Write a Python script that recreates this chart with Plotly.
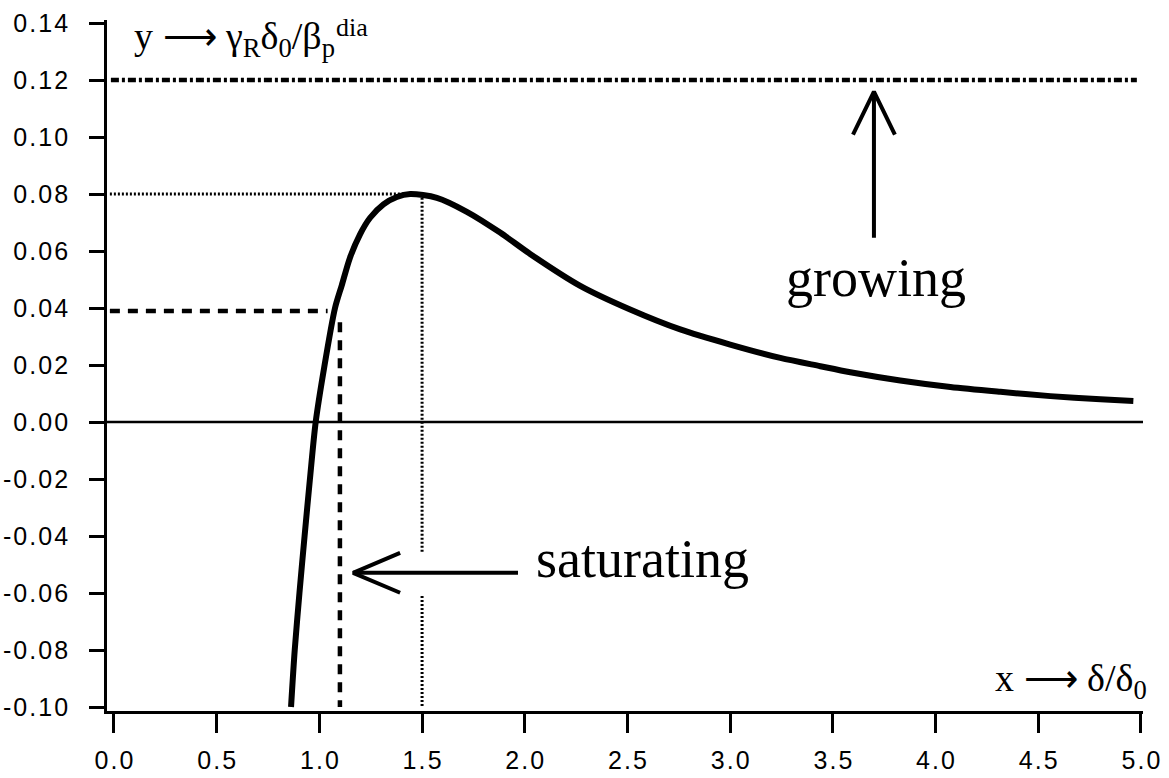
import plotly.graph_objects as go

# Normalised growth-rate curve: y = gamma_R * delta_0 / beta_p^dia versus x = delta / delta_0
curve_x = [0.862, 0.880, 0.903, 0.928, 0.954, 0.982, 1.023, 1.076, 1.109, 1.149,
           1.198, 1.247, 1.312, 1.377, 1.442, 1.572, 1.718, 1.880, 2.026, 2.270,
           2.513, 2.757, 3.000, 3.244, 3.439, 3.585, 3.828, 4.072, 4.316, 4.559,
           4.803, 4.963]
curve_y = [-0.100, -0.080, -0.060, -0.040, -0.020, 0.000, 0.019, 0.040, 0.048, 0.0577,
           0.0659, 0.0717, 0.0764, 0.0790, 0.0800, 0.0787, 0.0738, 0.0665, 0.0590, 0.0478,
           0.0395, 0.0325, 0.0272, 0.0225, 0.0196, 0.0175, 0.0146, 0.0123, 0.0106, 0.0091,
           0.0080, 0.0074]

# Reference levels
growth_level = 0.12          # dash-dot line
peak_x, peak_y = 1.5, 0.08   # dotted guide to the maximum
sat_x, sat_y = 1.1, 0.039    # dashed guide to the saturated island width

# Axis ticks
x_ticks = [0.0, 0.5, 1.0, 1.5, 2.0, 2.5, 3.0, 3.5, 4.0, 4.5, 5.0]
y_ticks = [0.14, 0.12, 0.10, 0.08, 0.06, 0.04, 0.02, 0.00,
           -0.02, -0.04, -0.06, -0.08, -0.10]

X_RANGE = [-0.034, 5.010]
Y_RANGE = [-0.1014, 0.1411]

SP = "\u200a"  # hair space for the wide tracking of the tick labels


def spaced(s):
    return SP.join(s)


x_labels = [spaced(f"{v:.1f}") for v in x_ticks]
y_labels = [spaced(f"{v:.2f}".replace("-0.00", "0.00")) for v in y_ticks]

fig = go.Figure()

# zero line
fig.add_trace(go.Scatter(x=X_RANGE, y=[0, 0], mode="lines",
                         line=dict(color="black", width=2.5)))

# dash-dot growth level
fig.add_trace(go.Scatter(x=[-0.015, 4.98], y=[growth_level, growth_level], mode="lines",
                         line=dict(color="black", width=4.5, dash="8px,3px,3px,3px")))

# dotted guides to the maximum (vertical one broken where the arrow crosses)
fig.add_trace(go.Scatter(x=[-0.02, 1.44, None, peak_x, peak_x, None, peak_x, peak_x],
                         y=[peak_y, peak_y, None, 0.0787, -0.046, None, -0.061, -0.100],
                         mode="lines",
                         line=dict(color="black", width=3, dash="2px,2px")))

# dashed guides to the saturation point
fig.add_trace(go.Scatter(x=[-0.02, 1.04, None, sat_x, sat_x],
                         y=[sat_y, sat_y, None, 0.035, -0.100],
                         mode="lines",
                         line=dict(color="black", width=4.5, dash="10px,8px")))

# main curve
fig.add_trace(go.Scatter(x=curve_x, y=curve_y, mode="lines",
                         line=dict(color="black", width=6, shape="spline", smoothing=0.8)))

# open-headed arrows
sat_tip, sat_tail, sat_yarrow = 1.164, 1.967, -0.0529
grow_x, grow_tip, grow_tail = 3.70, 0.116, 0.0647
fig.add_trace(go.Scatter(
    x=[sat_tail, sat_tip, None, sat_tip + 0.229, sat_tip, sat_tip + 0.229],
    y=[sat_yarrow, sat_yarrow, None, sat_yarrow + 0.007, sat_yarrow, sat_yarrow - 0.007],
    mode="lines", line=dict(color="black", width=4)))
fig.add_trace(go.Scatter(
    x=[grow_x, grow_x, None, grow_x - 0.102, grow_x, grow_x + 0.102],
    y=[grow_tail, grow_tip, None, grow_tip - 0.0151, grow_tip, grow_tip - 0.0151],
    mode="lines", line=dict(color="black", width=4)))

serif = "Liberation Serif, Times New Roman, serif"
ARROW = "\u27f6"
ann = [
    dict(x=2.045, y=-0.048, text="saturating", xanchor="left", yanchor="middle",
         xref="x", yref="y", font=dict(family=serif, size=54, color="black")),
    dict(x=3.71, y=0.0505, text="growing", xanchor="center", yanchor="middle",
         xref="x", yref="y", font=dict(family=serif, size=54, color="black")),
    dict(x=0.09, y=0.1345,
         text=f"y {ARROW} \u03b3<sub>R</sub>\u03b4<sub>0</sub>/\u03b2<sub>p</sub>",
         xanchor="left", yanchor="middle", xref="x", yref="y",
         font=dict(family=serif, size=38, color="black")),
    dict(x=1.07, y=0.1385, text="dia", xanchor="left", yanchor="middle",
         xref="x", yref="y", font=dict(family=serif, size=26, color="black")),
    dict(x=1.006, y=-0.091, text=f"x {ARROW} \u03b4/\u03b4<sub>0</sub>", xanchor="right",
         yanchor="middle", xref="paper", yref="y",
         font=dict(family=serif, size=38, color="black")),
]
for a in ann:
    a.update(showarrow=False)

tick_font = dict(family="Liberation Sans, Arial, sans-serif", size=25, color="black")

fig.update_layout(
    width=1169, height=778,
    margin=dict(l=107, r=26, t=20, b=67),
    paper_bgcolor="white", plot_bgcolor="white",
    showlegend=False,
    annotations=ann,
    xaxis=dict(range=X_RANGE, tickmode="array", tickvals=x_ticks, ticktext=x_labels,
               showline=True, linecolor="black", linewidth=2.5, ticks="outside",
               ticklen=19, tickwidth=2.5, tickcolor="black", showgrid=False,
               zeroline=False, tickfont=tick_font, ticklabelstandoff=6,
               automargin=False),
    yaxis=dict(range=Y_RANGE, tickmode="array", tickvals=y_ticks, ticktext=y_labels,
               showline=True, linecolor="black", linewidth=2.5, ticks="outside",
               ticklen=15, tickwidth=2.5, tickcolor="black", showgrid=False,
               zeroline=False, tickfont=tick_font, ticklabelstandoff=16,
               automargin=False),
)

fig.write_html("out.html")
